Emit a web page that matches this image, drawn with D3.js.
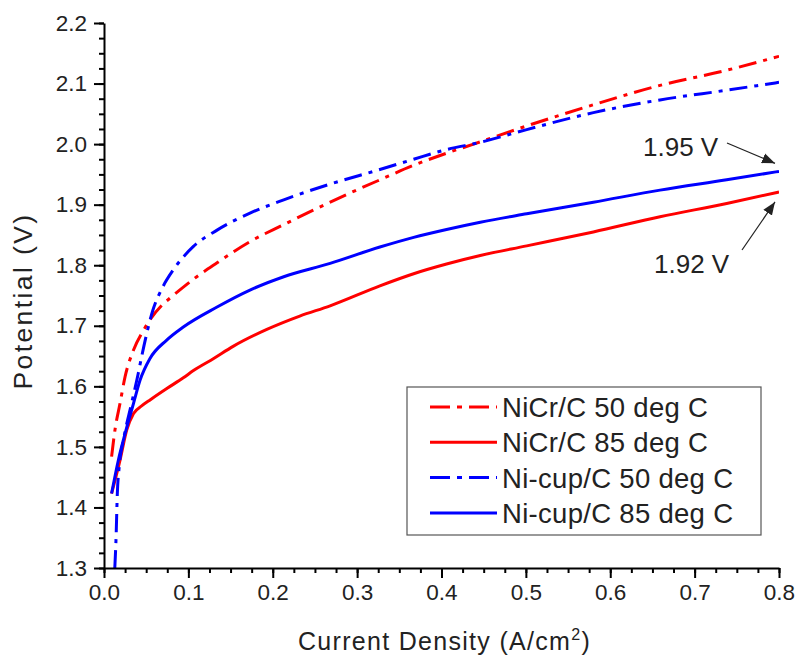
<!DOCTYPE html>
<html>
<head>
<meta charset="utf-8">
<script src="https://cdn.jsdelivr.net/npm/d3@7"></script>
<style>
  html, body { margin: 0; padding: 0; background: #fff; }
  svg { display: block; font-family: Arial, "Liberation Sans", Helvetica, sans-serif; }
</style>
</head>
<body>
<svg id="chart" width="796" height="657"></svg>
<script>
// ---- Data ----
const seriesNames = ["NiCr/C 50 deg C", "NiCr/C 85 deg C", "Ni-cup/C 50 deg C", "Ni-cup/C 85 deg C"];

const nicr50X = [0.009,0.013,0.019,0.025,0.035,0.047,0.055,0.068,0.082,0.106,0.134,0.173,0.213,0.248,0.288,0.327,0.367,0.406,0.438,0.501,0.58,0.659,0.738,0.8];
const nicr50Y = [1.484,1.528,1.572,1.616,1.66,1.693,1.711,1.733,1.750,1.777,1.804,1.839,1.867,1.891,1.917,1.941,1.965,1.985,2.0,2.030,2.065,2.097,2.122,2.145];

const nicr85X = [0.009,0.019,0.027,0.035,0.045,0.055,0.074,0.094,0.106,0.13,0.153,0.193,0.232,0.268,0.327,0.367,0.406,0.446,0.501,0.58,0.659,0.738,0.8];
const nicr85Y = [1.423,1.478,1.528,1.555,1.568,1.578,1.596,1.614,1.626,1.646,1.666,1.694,1.716,1.733,1.766,1.786,1.802,1.816,1.832,1.855,1.880,1.902,1.921];

const nicup50X = [0.0128,0.0142,0.0158,0.018,0.023,0.0327,0.0407,0.0446,0.058,0.07,0.082,0.106,0.134,0.173,0.213,0.268,0.327,0.367,0.406,0.446,0.501,0.58,0.659,0.738,0.8];
const nicup50Y = [1.30,1.346,1.423,1.467,1.511,1.572,1.622,1.649,1.726,1.765,1.792,1.831,1.858,1.886,1.908,1.934,1.958,1.975,1.991,2.003,2.024,2.052,2.073,2.089,2.102];

const nicup85X = [0.009,0.017,0.025,0.035,0.0427,0.0545,0.074,0.094,0.134,0.173,0.213,0.268,0.327,0.367,0.406,0.446,0.501,0.58,0.659,0.738,0.8];
const nicup85Y = [1.423,1.478,1.522,1.572,1.61,1.646,1.676,1.698,1.731,1.759,1.781,1.803,1.830,1.846,1.859,1.871,1.885,1.904,1.924,1.941,1.955];

const xTicks = [0.0,0.1,0.2,0.3,0.4,0.5,0.6,0.7,0.8];
const yTicks = [1.3,1.4,1.5,1.6,1.7,1.8,1.9,2.0,2.1,2.2];
const annotations = [
  {label: "1.95 V", x: 0.8, y: 1.955},
  {label: "1.92 V", x: 0.8, y: 1.921}
];

// ---- Layout ----
const svg = d3.select("#chart");
const L = 104, R = 779, T = 23, B = 568;
const x = d3.scaleLinear().domain([0, 0.8]).range([L, R]);
const y = d3.scaleLinear().domain([1.3, 2.2]).range([B, T]);

const styles = [
  {color: "#ff0000", dash: "18,7,4,7"},
  {color: "#ff0000", dash: null},
  {color: "#0000ff", dash: "18,7,4,7"},
  {color: "#0000ff", dash: null}
];
const seriesData = [
  d3.zip(nicr50X, nicr50Y),
  d3.zip(nicr85X, nicr85Y),
  d3.zip(nicup50X, nicup50Y),
  d3.zip(nicup85X, nicup85Y)
];

svg.append("defs").append("clipPath").attr("id", "clip")
  .append("rect").attr("x", L).attr("y", T).attr("width", R - L).attr("height", B - T);

const line = d3.line().x(d => x(d[0])).y(d => y(d[1])).curve(d3.curveMonotoneX);

const plot = svg.append("g").attr("clip-path", "url(#clip)");
seriesData.forEach((d, i) => {
  plot.append("path").datum(d)
    .attr("d", line)
    .attr("fill", "none")
    .attr("stroke", styles[i].color)
    .attr("stroke-width", 3)
    .attr("stroke-dasharray", styles[i].dash)
    .attr("stroke-linejoin", "round");
});

// ---- Axes ----
const minorX = d3.range(0, 33).map(i => i * 0.025);
const minorY = d3.range(0, 37).map(i => 1.3 + i * 0.025);

const gx = svg.append("g").attr("transform", `translate(0,${B})`);
gx.call(d3.axisBottom(x).tickValues(minorX).tickSize(5).tickFormat("").tickSizeOuter(0));
gx.call(g => g.select(".domain").remove());
const gx2 = svg.append("g").attr("transform", `translate(0,${B})`);
gx2.call(d3.axisBottom(x).tickValues(xTicks).tickSize(10).tickSizeOuter(0).tickPadding(6).tickFormat(d3.format(".1f")));

const gy = svg.append("g").attr("transform", `translate(${L},0)`);
gy.call(d3.axisLeft(y).tickValues(minorY).tickSize(5).tickFormat("").tickSizeOuter(0));
gy.call(g => g.select(".domain").remove());
const gy2 = svg.append("g").attr("transform", `translate(${L},0)`);
gy2.call(d3.axisLeft(y).tickValues(yTicks).tickSize(10).tickSizeOuter(0).tickPadding(7).tickFormat(d3.format(".1f")));

svg.selectAll(".tick line").attr("stroke", "#000").attr("stroke-width", 2);
svg.selectAll(".domain").attr("stroke", "#000").attr("stroke-width", 2);
svg.selectAll(".tick text").attr("font-size", 22.5).attr("fill", "#222").attr("font-family", "Arial, 'Liberation Sans', sans-serif");

// Axis titles
const xt = svg.append("text")
  .attr("x", (L + R) / 2 + 3).attr("y", 650)
  .attr("text-anchor", "middle").attr("font-size", 25).attr("letter-spacing", 1.3).attr("fill", "#222");
xt.append("tspan").text("Current Density (A/cm");
xt.append("tspan").text("2").attr("font-size", 16).attr("dy", -10);
xt.append("tspan").text(")").attr("dy", 10);

svg.append("text")
  .attr("transform", `translate(32,${301}) rotate(-90)`)
  .attr("text-anchor", "middle").attr("font-size", 26.5).attr("letter-spacing", 2.4).attr("fill", "#222")
  .text("Potential (V)");

// ---- Legend ----
const lg = svg.append("g");
lg.append("rect").attr("x", 407).attr("y", 387).attr("width", 354).attr("height", 148)
  .attr("fill", "#fff").attr("stroke", "#555").attr("stroke-width", 1.2);
seriesNames.forEach((name, i) => {
  const yy = 407 + i * 35.3;
  lg.append("line").attr("x1", 430).attr("x2", 497).attr("y1", yy).attr("y2", yy)
    .attr("stroke", styles[i].color).attr("stroke-width", 3)
    .attr("stroke-dasharray", styles[i].dash ? "20,7,5,7" : null);
  lg.append("text").attr("x", 502).attr("y", yy + 10)
    .attr("font-size", 27.5).attr("letter-spacing", 0.3).attr("fill", "#222").text(name);
});

// ---- Annotations ----
const defs = svg.select("defs");
defs.append("marker").attr("id", "arrow").attr("viewBox", "0 0 10 10")
  .attr("refX", 10).attr("refY", 5).attr("markerWidth", 13).attr("markerHeight", 13)
  .attr("markerUnits", "userSpaceOnUse").attr("orient", "auto")
  .append("path").attr("d", "M0,1 L10,5 L0,9 Z").attr("fill", "#222");

const ann = [
  {tx: 643, ty: 156, x1: 727, y1: 143, dx: -4, dy: -8},
  {tx: 654, ty: 273, x1: 742, y1: 250, dx: -4, dy: 10}
];
annotations.forEach((a, i) => {
  svg.append("text").attr("x", ann[i].tx).attr("y", ann[i].ty)
    .attr("font-size", 26).attr("fill", "#222").text(a.label);
  svg.append("line")
    .attr("x1", ann[i].x1).attr("y1", ann[i].y1)
    .attr("x2", x(a.x) + ann[i].dx).attr("y2", y(a.y) + ann[i].dy)
    .attr("stroke", "#222").attr("stroke-width", 1.2)
    .attr("marker-end", "url(#arrow)");
});
</script>
</body>
</html>
